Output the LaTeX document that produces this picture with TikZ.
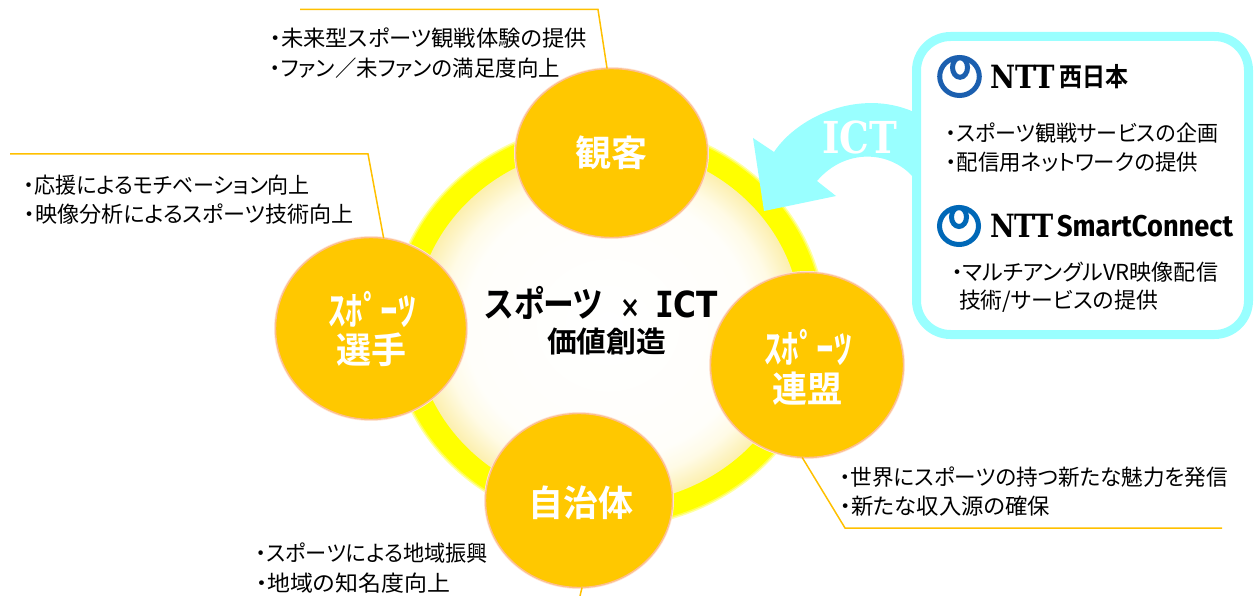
\documentclass[tikz,border=0pt]{standalone}
\usepackage{graphicx}
\usepackage{fontspec}
\usetikzlibrary{shapes.geometric}
\setmainfont{Liberation Sans}
\newfontfamily\jp[RawFeature=+palt]{Noto Sans CJK JP}
\newfontfamily\jpb[RawFeature=+palt]{Noto Sans CJK JP Bold}
\newfontfamily\slab{DejaVu Serif Bold}
\newfontfamily\monob{DejaVu Sans Mono Bold}
\newfontfamily\sansb{DejaVu Sans Bold}
\newfontfamily\condb{Fira Sans Bold}
\definecolor{amber}{HTML}{FFC800}
\definecolor{leader}{HTML}{FFC000}
\definecolor{edgepink}{HTML}{FDBE90}
\definecolor{aqua}{HTML}{99FFFF}
\definecolor{ringy}{HTML}{FFFF00}
\definecolor{paley}{HTML}{FCEFAE}
\definecolor{nearw}{HTML}{FFFEFA}
\definecolor{midy}{HTML}{FFFBE6}
\definecolor{nttone}{HTML}{1B5FAF}
\definecolor{ntttwo}{HTML}{0068B7}
\pgfdeclareradialshading{corefill}{\pgfpointorigin}{color(0bp)=(white); color(18.5bp)=(nearw); color(21.5bp)=(midy); color(25bp)=(paley); color(50bp)=(paley)}
\newcommand{\fitw}[2]{\resizebox{#1pt}{\height}{#2}}
\tikzset{
  every node/.style={inner sep=0pt,outer sep=0pt},
  ball/.style={ellipse,fill=amber,draw=edgepink,line width=1.4pt,preaction={draw=edgepink!35,line width=3.0pt}},
  lead/.style={draw=leader,line width=1.5pt,line join=miter},
  body/.style={anchor=west,black,font=\fontsize{22}{22}\selectfont\jp},
  title/.style={white,font=\fontsize{36}{36}\selectfont\jpb},
  halfkana/.style={white,font=\fontsize{40}{40}\selectfont\jpb},
  logoline/.style={line width=5pt}
}
\begin{document}
\begin{tikzpicture}[x=1pt,y=-1pt]
\useasboundingbox (0,0) rectangle (1255,596);
% ring
\fill[ringy!35] (608,325) ellipse (218 and 203);
\fill[ringy!70] (608,325) ellipse (216.5 and 201.5);
\fill[ringy] (608,325) ellipse (215 and 200);
\shade[shading=corefill] (608,325) ellipse (193 and 179);
% leaders
\coordinate (a1) at (300,9.5); \coordinate (a2) at (598,9.5);
\coordinate (p1) at (10,154); \coordinate (p2) at (368,154);
\coordinate (l1) at (845,528); \coordinate (l2) at (1222,528);
\coordinate (g1) at (580,596);
% balls
\node[ball,minimum width=192pt,minimum height=169pt] (aud) at (611.5,153) {};
\node[ball,minimum width=191pt,minimum height=182pt] (ply) at (371,328.5) {};
\node[ball,minimum width=193pt,minimum height=185pt] (lea) at (807,365) {};
\node[ball,minimum width=187pt,minimum height=174pt] (gov) at (579,500.5) {};
\draw[lead] (a1) -- (a2) -- (aud.93);
\draw[lead] (p1) -- (p2) -- (ply.82);
\draw[lead] (lea.267) -- (l1) -- (l2);
\draw[lead] (gov.272) -- (g1);
% ball titles
\node[title] (t1) at (611.5,153) {\fitw{72}{観客}};
\node[halfkana] (t2a) at (372,309) {\fitw{88}{ｽﾎﾟｰﾂ}};
\node[title] (t2b) at (371,350) {\fitw{70}{選手}};
\node[halfkana] (t3a) at (808,347) {\fitw{88}{ｽﾎﾟｰﾂ}};
\node[title] (t3b) at (807,389) {\fitw{70}{連盟}};
\node[title] (t4) at (580.5,503) {\fitw{105}{自治体}};
% centre
\node[black,font=\fontsize{36}{36}\selectfont] (c1) at (601.5,303) {\fitw{118}{\jpb スポーツ}\hspace{17pt}\fitw{20}{\fontsize{30}{30}\selectfont\sansb ×}\hspace{15pt}\fitw{63}{{\monob I}{\sansb CT}}};
\node[black,font=\fontsize{29}{29}\selectfont\jpb] (c2) at (606.5,341) {\fitw{119}{価値創造}};
% body texts
\node[body] (b1) at (270,38) {\fitw{317}{・未来型スポーツ観戦体験の提供}};
\node[body] (b2) at (270,68) {\fitw{290}{・ファン／未ファンの満足度向上}};
\node[body] (b3) at (24,185) {\fitw{286}{・応援によるモチベーション向上}};
\node[body] (b4) at (24,214) {\fitw{330}{・映像分析によるスポーツ技術向上}};
\node[body] (b5) at (256,553) {\fitw{232}{・スポーツによる地域振興}};
\node[body] (b6) at (256,583) {\fitw{194}{・地域の知名度向上}};
\node[body] (b7) at (840,477) {\fitw{388}{・世界にスポーツの持つ新たな魅力を発信}};
\node[body] (b8) at (840,506) {\fitw{210}{・新たな収入源の確保}};
% arrow
\fill[aqua] (764,211) -- (753,138) -- (774,152)
  .. controls (798,116) and (860,88) .. (914,112) -- (914,178)
  .. controls (890,150) and (845,148) .. (817,181) -- (836,196) -- cycle;
\node[white,font=\fontsize{44}{44}\selectfont\slab] (ict) at (859.5,137) {\fitw{75}{ICT}};
% box
\draw[aqua,line width=9pt,fill=white,rounded corners=34pt] (916.5,36.5) rectangle (1248.5,334.5);
% logos
\draw[nttone,logoline] (959.5,76.5) ellipse (19.8 and 19);
\draw[nttone,logoline] (960,67.5) ellipse (7.5 and 9.8);
\draw[ntttwo,logoline] (959,226) ellipse (19.5 and 18.5);
\draw[ntttwo,logoline] (959,217) ellipse (7.5 and 9.5);
\node[anchor=west,black,font=\fontsize{32}{32}\selectfont\slab] (n1) at (990,77) {\fitw{65}{NTT}};
\node[anchor=west,black,font=\fontsize{26}{26}\selectfont\jpb] (n2) at (1059,77) {\fitw{69}{西日本}};
\node[anchor=west,black,font=\fontsize{32}{32}\selectfont\slab] (n3) at (990,226) {\fitw{64}{NTT}};
\node[anchor=west,black,font=\fontsize{30}{30}\selectfont\condb] (n4) at (1057,226) {\fitw{176}{SmartConnect}};
\node[body] (b9) at (946,133) {\fitw{272}{・スポーツ観戦サービスの企画}};
\node[body] (b10) at (946,162) {\fitw{252}{・配信用ネットワークの提供}};
\node[body] (b11) at (952,272) {\fitw{266}{・マルチアングルVR映像配信}};
\node[body] (b12) at (959,301) {\fitw{199}{技術/サービスの提供}};
\end{tikzpicture}
\end{document}
